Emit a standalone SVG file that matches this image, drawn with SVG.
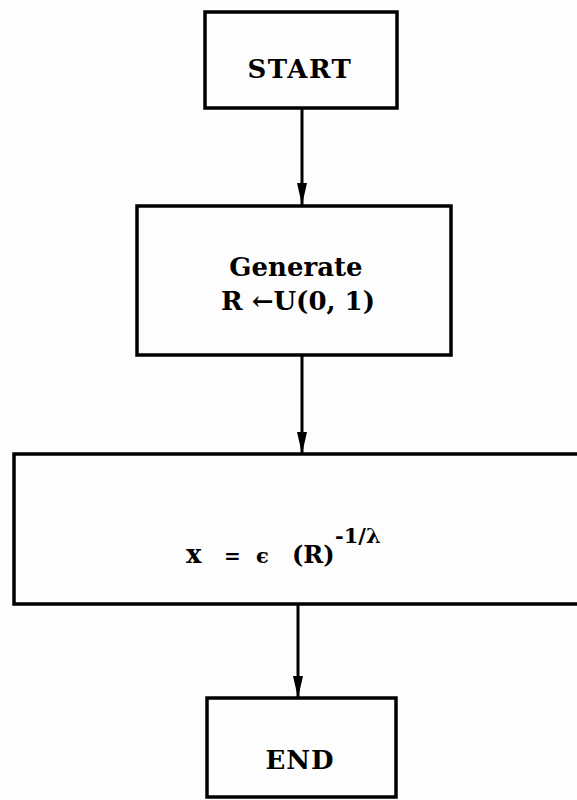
<svg xmlns="http://www.w3.org/2000/svg" width="577" height="800" viewBox="0 0 577 800">
<defs>
<style>
.box{fill:none;stroke:#000;stroke-width:3.5}
.t{font-family:"DejaVu Serif","Liberation Serif",serif;font-weight:bold;fill:#000;text-anchor:middle;font-size:26px}
.f{font-family:"DejaVu Serif","Liberation Serif",serif;font-weight:bold;fill:#000}
.c{stroke:#000;stroke-width:3;fill:none}
</style>
<marker id="ah" viewBox="0 0 22 10" refX="22" refY="5" markerWidth="22" markerHeight="10" markerUnits="userSpaceOnUse" orient="auto">
<path d="M0,0 L22,5 L0,10 Z" fill="#000"/>
</marker>
</defs>
<rect width="577" height="800" fill="#fdfdfd"/>
<g id="connectors">
<line class="c" x1="302" y1="108" x2="302" y2="205" marker-end="url(#ah)"/>
<line class="c" x1="302" y1="355" x2="302" y2="454" marker-end="url(#ah)"/>
<line class="c" x1="298" y1="604" x2="298" y2="698" marker-end="url(#ah)"/>
</g>
<g id="start">
<rect class="box" x="205" y="12" width="192" height="96"/>
<text class="t" x="300" y="78" letter-spacing="1.5">START</text>
</g>
<g id="generate">
<rect class="box" x="137" y="206" width="314" height="149"/>
<text class="t" x="296" y="276">Generate</text>
<text class="t" x="298" y="310">R ←U(0, 1)</text>
</g>
<g id="formula">
<path class="box" d="M577,454 L14,454 L14,604 L577,604"/>
<text class="f" x="186" y="563" font-size="26">x</text>
<text class="f" x="224" y="563" font-size="20">=</text>
<text class="f" x="256" y="563" font-size="21">ϵ</text>
<text class="f" x="292" y="563" font-size="24">(R)</text>
<text class="f" x="335" y="543" font-size="21">-1/λ</text>
</g>
<g id="end">
<rect class="box" x="207" y="698" width="189" height="99"/>
<text class="t" x="300" y="769" letter-spacing="1">END</text>
</g>
</svg>
